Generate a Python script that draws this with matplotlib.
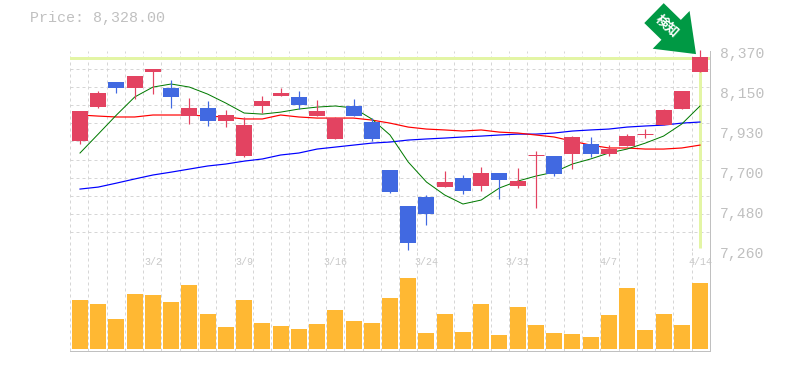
import matplotlib
matplotlib.use('Agg')
import matplotlib.pyplot as plt
import numpy as np
from matplotlib.ticker import FixedLocator
from matplotlib.transforms import ScaledTranslation

opens = [7867, 8056, 8195, 8162, 8250, 8162, 8006, 8051, 7979, 7784, 8062, 8117, 8112, 8006, 7879,
         8062, 7973, 7707, 7507, 7557, 7612, 7662, 7618, 7690, 7618, 7790, 7784, 7795, 7851, 7795,
         7840, 7906, 7956, 8045, 8250]
closes = [8034, 8134, 8162, 8228, 8267, 8112, 8051, 7979, 8012, 7956, 8089, 8134, 8067, 8034, 7995,
          8006, 7879, 7584, 7301, 7462, 7640, 7590, 7690, 7651, 7645, 7790, 7684, 7890, 7795, 7823,
          7895, 7906, 8040, 8145, 8334]
highs = [8034, 8145, 8195, 8228, 8267, 8206, 8106, 8089, 8040, 8001, 8117, 8162, 8145, 8095, 8001,
         8101, 7995, 7707, 7507, 7568, 7701, 7679, 7723, 7690, 7718, 7812, 7784, 7895, 7890, 7845,
         7906, 7934, 8045, 8145, 8373]
lows = [7851, 8051, 8134, 8101, 8128, 8051, 7962, 7951, 7945, 7779, 8023, 8117, 8045, 8006, 7879,
        8006, 7867, 7579, 7262, 7401, 7612, 7573, 7590, 7546, 7607, 7496, 7673, 7712, 7779, 7784,
        7840, 7884, 7956, 8045, 8250]
ma_green = [7801, 7906, 8012, 8112, 8167, 8184, 8167, 8128, 8078, 8023, 8017, 8028, 8045, 8056, 8062,
            8051, 7990, 7901, 7751, 7640, 7568, 7518, 7540, 7607, 7645, 7673, 7695, 7740, 7768, 7801,
            7823, 7856, 7895, 7962, 8062]
ma_red = [8012, 8006, 8001, 8001, 8012, 8012, 8012, 8006, 8001, 7990, 7990, 8012, 8001, 7995, 7995,
          7995, 7984, 7967, 7945, 7934, 7929, 7923, 7929, 7917, 7912, 7901, 7890, 7867, 7845, 7829,
          7829, 7823, 7823, 7829, 7845]
ma_blue = [7601, 7612, 7634, 7657, 7679, 7695, 7712, 7729, 7740, 7756, 7768, 7790, 7801, 7823, 7834,
           7845, 7856, 7862, 7873, 7879, 7884, 7890, 7895, 7901, 7906, 7906, 7912, 7923, 7929, 7934,
           7945, 7951, 7956, 7967, 7973]
volumes = [49, 45, 30, 55, 54, 47, 64, 35, 22, 49, 26, 23, 20, 25, 39, 28, 26, 51,
           71, 16, 35, 17, 45, 14, 42, 24, 16, 15, 12, 34, 61, 19, 35, 24, 66]
price = 8328
title = 'Price: 8,328.00'
ytick_vals = [8370, 8148, 7926, 7704, 7482, 7260]
ytick_labels = ['8,370', '8,150', '7,930', '7,700', '7,480', '7,260']
xtick_pos = [4, 9, 14, 19, 24, 29, 34]
xtick_labels = ['3/2', '3/9', '3/16', '3/24', '3/31', '4/7', '4/14']

W, H = 785, 370
px = 72 / 100
RED = '#E34361'
BLUE = '#4169E1'
PALE = '#E3F5A5'
AXIS = '#C0C0C0'
GRID = '#D6D6D6'
MONO = 'Liberation Mono'

fig = plt.figure(figsize=(W / 100, H / 100), dpi=100)
ax = fig.add_axes([70 / W, 1 - 250.5 / H, 640 / W, 200 / H])
ax_v = fig.add_axes([70 / W, 1 - 350.5 / H, 640 / W, 100 / H], sharex=ax)

x = np.arange(len(opens))
o, c, h, l = map(np.array, (opens, closes, highs, lows))
up = c >= o
colors = np.where(up, RED, BLUE)

for a in (ax, ax_v):
    a.set_axisbelow(True)
    for s in a.spines.values():
        s.set_visible(False)
    a.xaxis.set_minor_locator(FixedLocator(np.linspace(-0.548, 34.548, 36)))
    a.grid(which='minor', axis='x', color=GRID, lw=1 * px, ls=(0, (3, 3)))
    a.tick_params(which='both', length=0)

ax.set_xlim(-0.548, 34.548)
ax.set_ylim(7260, 8370)
ax.yaxis.set_minor_locator(FixedLocator(np.linspace(7260, 8370, 12)))
ax.grid(which='minor', axis='y', color=GRID, lw=1 * px, ls=(0, (3, 3)))

ax.axhline(price, color=PALE, lw=3 * px, zorder=1.5)
ax.plot([34, 34], [7272, price], color=PALE, lw=3 * px, zorder=1.5, solid_capstyle='butt')

ax.plot(x, ma_blue, color='#0000FF', lw=1.2 * px, zorder=2)
ax.plot(x, ma_red, color='#FF0000', lw=1.2 * px, zorder=2)
ax.plot(x, ma_green, color='#007A00', lw=1 * px, zorder=2)

ax.vlines(x, l, h, colors=colors, lw=1.2 * px, zorder=3, clip_on=False)
ax.bar(x, np.abs(c - o), bottom=np.minimum(o, c), width=0.877, color=colors, zorder=3)
doji = o == c
ax.hlines(o[doji], x[doji] - 0.44, x[doji] + 0.44, colors=colors[doji], lw=1 * px, zorder=3)

ax.yaxis.tick_right()
ax.set_yticks(ytick_vals)
ax.set_yticklabels(ytick_labels, family=MONO, fontsize=10.6, color=AXIS)
ax.tick_params(axis='y', which='major', pad=7, length=0)
shift = ScaledTranslation(0, -2 / 100, fig.dpi_scale_trans)
for lab in ax.get_yticklabels():
    lab.set_transform(lab.get_transform() + shift)
ax.tick_params(axis='x', which='both', labelbottom=False)

ax_v.bar(x, volumes, width=0.877, color='#FFB833', zorder=3)
ax_v.set_ylim(-2, 98)
ax_v.set_yticks([])
ax_v.xaxis.tick_top()
ax_v.set_xticks(xtick_pos)
ax_v.set_xticklabels(xtick_labels, family=MONO, fontsize=7.2, color='#C8C8C8')
ax_v.tick_params(axis='x', which='major', pad=-11.8, length=0, labelbottom=False, labeltop=True)
ax_v.tick_params(axis='x', which='minor', top=False, bottom=False)

# frame: only bottom of each panel and right side are solid
for a in (ax, ax_v):
    a.spines['bottom'].set_visible(True)
    a.spines['bottom'].set_color(AXIS)
    a.spines['bottom'].set_linewidth(1 * px)
    a.spines['right'].set_visible(True)
    a.spines['right'].set_color(AXIS)
    a.spines['right'].set_linewidth(1 * px)

fig.text(30 / W, 1 - 18 / H, title, family=MONO, fontsize=10.8, color=AXIS, va='center', ha='left')

# marker arrow above the last candle
ax.annotate('', xy=(33.78, 8350), xytext=(-42, 41), textcoords='offset pixels',
            annotation_clip=False,
            arrowprops=dict(arrowstyle='simple,head_length=25,head_width=38,tail_width=20',
                            mutation_scale=1, color='#009944', lw=0, shrinkA=0, shrinkB=0))
ax.annotate('検知', xy=(33.78, 8350), xytext=(-29, 28), textcoords='offset pixels',
            annotation_clip=False, rotation=-42, ha='center', va='center', color='white',
            fontsize=9.5, fontweight='bold', family=['Noto Sans CJK JP', 'DejaVu Sans'])

fig.savefig('out.png', dpi=100)
